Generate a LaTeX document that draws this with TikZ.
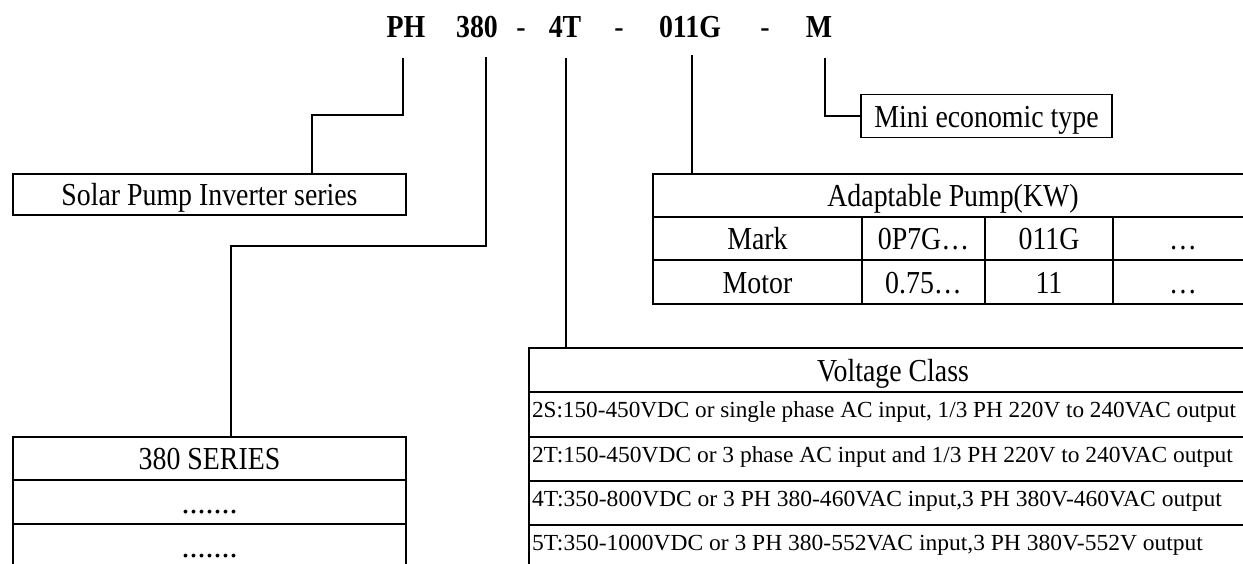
\documentclass[tikz,border=0pt]{standalone}
\usepackage{fontspec}
\setmainfont{Liberation Serif}
\usepackage{graphicx}
\newcommand\sqz[1]{\scalebox{0.87}[1]{#1}}
\newlength\fitlen
\newcommand\fitx[2]{\settowidth\fitlen{#2}\scalebox{\fpeval{#1/(\fitlen)}}[1]{#2}}
\begin{document}
\begin{tikzpicture}[x=1pt,y=-1pt,
  big/.style={font=\fontsize{32}{32}\selectfont},
  ttl/.style={font=\fontsize{32}{32}\selectfont\bfseries, inner sep=0pt, anchor=base},
  dsh/.style={font=\fontsize{32}{32}\selectfont, inner sep=0pt, anchor=base},
  cell/.style={draw, line width=1.2pt, inner sep=0pt, text height=22pt, text depth=0pt, big},
  vrow/.style={draw, line width=1.2pt, inner xsep=3pt, inner ysep=0pt, minimum width=728pt,
    text height=16pt, text depth=10pt, font=\fontsize{23}{23}\selectfont},
  conn/.style={line width=2.2pt}]
\useasboundingbox (0,0) rectangle (1243,563);
\fill[white] (0,0) rectangle (1243,563);
\clip (0,0) rectangle (1243,563);

% title
\node[ttl] (tPH) at (406,37) {\sqz{PH}};
\node[ttl] (t380) at (477,37) {\sqz{380}};
\node[dsh] (d1) at (521,37) {\sqz{-}};
\node[ttl] (t4T) at (565,37) {\sqz{4T}};
\node[dsh] (d2) at (619,37) {\sqz{-}};
\node[ttl] (t011) at (690,37) {\sqz{011G}};
\node[dsh] (d3) at (765,37) {\sqz{-}};
\node[ttl] (tM) at (819,37) {\sqz{M}};

% solar box
\node[cell, minimum width=393pt, minimum height=41pt] (sol) at (209.5,194.5) {\sqz{Solar Pump Inverter series}};

% series table
\node[cell, minimum width=393pt, minimum height=43pt] (ser1) at (209.5,458.5) {\sqz{380 SERIES}};
\node[cell, minimum width=393pt, minimum height=44pt] (ser2) at (209.5,502) {.......};
\node[cell, minimum width=393pt, minimum height=44pt] (ser3) at (209.5,546) {.......};

% mini box
\node[cell, minimum width=251pt, minimum height=43pt] (mini) at (986.5,116) {\sqz{Mini economic type}};

% adaptable pump table
\node[cell, minimum width=600pt, minimum height=43pt] (ad) at (953,195.5) {\sqz{Adaptable Pump(KW)}};
\node[cell, minimum width=209pt, minimum height=43pt] (m1) at (757.5,238.5) {\sqz{Mark}};
\node[cell, minimum width=123pt, minimum height=43pt] (m2) at (923.5,238.5) {\sqz{0P7G…}};
\node[cell, minimum width=128pt, minimum height=43pt] (m3) at (1049,238.5) {\sqz{011G}};
\node[cell, minimum width=140pt, minimum height=43pt] (m4) at (1183,238.5) {\sqz{…}};
\node[cell, minimum width=209pt, minimum height=44pt] (o1) at (757.5,282) {\sqz{Motor}};
\node[cell, minimum width=123pt, minimum height=44pt] (o2) at (923.5,282) {\sqz{0.75…}};
\node[cell, minimum width=128pt, minimum height=44pt] (o3) at (1049,282) {\sqz{11}};
\node[cell, minimum width=140pt, minimum height=44pt] (o4) at (1183,282) {\sqz{…}};

% voltage table
\node[cell, minimum width=728pt, minimum height=44pt] (vh) at (893,370) {\sqz{Voltage Class}};
\node[vrow, minimum height=45pt] (v1) at (893,414.5) {\makebox[722pt][l]{\fitx{704}{2S:150-450VDC or single phase AC input, 1/3 PH 220V to 240VAC output}}};
\node[vrow, minimum height=44pt] (v2) at (893,459) {\makebox[722pt][l]{\fitx{701}{2T:150-450VDC or 3 phase AC input and 1/3 PH 220V to 240VAC output}}};
\node[vrow, minimum height=44pt] (v3) at (893,503) {\makebox[722pt][l]{\fitx{690}{4T:350-800VDC or 3 PH 380-460VAC input,3 PH 380V-460VAC output}}};
\node[vrow, minimum height=44pt] (v4) at (893,547) {\makebox[722pt][l]{\fitx{671}{5T:350-1000VDC or 3 PH 380-552VAC input,3 PH 380V-552V output}}};

% connectors
\coordinate (aPH) at (403,58);
\coordinate (kPH) at (312,115);
\draw[conn] (aPH) |- (kPH) -- (kPH |- sol.north);

\coordinate (a380) at (486,57);
\coordinate (k380) at (231,246);
\draw[conn] (a380) |- (k380) -- (k380 |- ser1.north);

\coordinate (a4T) at (566,58);
\draw[conn] (a4T) -- (a4T |- vh.north);

\coordinate (a011) at (692,55);
\draw[conn] (a011) -- (a011 |- ad.north);

\coordinate (aM) at (825,58);
\draw[conn] (aM) |- (mini.west);
\end{tikzpicture}
\end{document}
